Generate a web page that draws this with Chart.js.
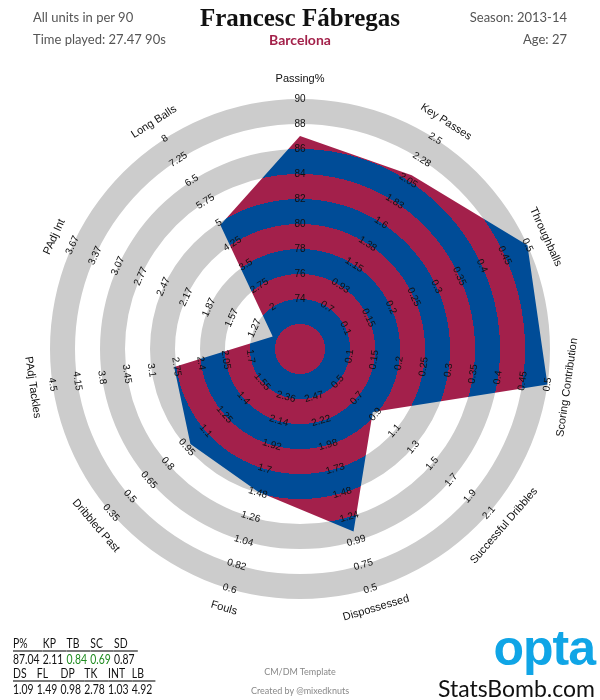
<!DOCTYPE html>
<html lang="en">
<head>
<meta charset="UTF-8">
<title>Francesc Fábregas - Radar</title>
<script src="https://cdn.jsdelivr.net/npm/chart.js"></script>
<style>
    body {
        margin: 0;
        background: #fff;
        font-family: Lato, "Liberation Sans", Arial, sans-serif;
    }
    .page { position: relative; width: 600px; height: 700px; overflow: hidden; }
    #radar { position: absolute; left: 0; top: 0; }
    .txt { position: absolute; white-space: nowrap; line-height: 1; }
    .info { font-size: 13px; color: #555; }
    .right { text-align: right; }
    #name {
        left: 0; width: 600px; top: 5px; text-align: center;
        font-family: "Liberation Serif", "DejaVu Serif", serif;
        font-weight: bold; font-size: 25px; color: #111;
    }
    #team {
        left: 0; width: 600px; top: 33px; text-align: center;
        font-weight: bold; font-size: 14px; color: #a3214a;
    }
    #statBox { left: 13px; top: 636px; transform: scaleX(0.8); transform-origin: left top; }
    .stats { border-collapse: collapse; font-size: 13px; color: #111; }
    .stats td { padding: 0 4px 0 0; line-height: 14px; }
    .stats .hd td { border-bottom: 2px solid #7a7a7a; }
    .note { font-size: 9px; color: #888; left: 0; width: 600px; text-align: center; }
    #opta { right: 5px; top: 623px; font-family: "Liberation Sans", Arial, sans-serif; font-weight: bold; font-size: 50px; color: #10a5e6; letter-spacing: -1px; }
    #sb { right: 5px; top: 677px; font-size: 23px; color: #111; }
</style>
</head>
<body>
<div class="page">
    <canvas id="radar" width="600" height="700"></canvas>

    <div class="txt info" style="left:33px; top:11px;">All units in per 90</div>
    <div class="txt info" style="left:33px; top:33px;">Time played: 27.47 90s</div>
    <div class="txt" id="name">Francesc Fábregas</div>
    <div class="txt" id="team">Barcelona</div>
    <div class="txt info right" style="right:33px; top:11px;">Season: 2013-14</div>
    <div class="txt info right" style="right:33px; top:33px;">Age: 27</div>

    <div class="txt" id="statBox">
        <table class="stats" id="row1"></table>
        <table class="stats" id="row2"></table>
    </div>

    <div class="txt note" style="top:667px;">CM/DM Template</div>
    <div class="txt note" style="top:686px;">Created by @mixedknuts</div>
    <div class="txt" id="opta">opta</div>
    <div class="txt" id="sb">StatsBomb.com</div>
</div>

<script>
    // axes, clockwise from the top
    const categories = ["Passing%", "Key Passes", "Throughballs", "Scoring Contribution",
        "Successful Dribbles", "Dispossessed", "Fouls", "Dribbled Past",
        "PAdj Tackles", "PAdj Int", "Long Balls"];
    const shortNames = ["P%", "KP", "TB", "SC", "SD", "DS", "FL", "DP", "TK", "INT", "LB"];
    const playerValues = [87.04, 2.11, 0.84, 0.69, 0.87, 1.09, 1.49, 0.98, 2.78, 1.03, 4.92];

    // ring labels per axis, inner ring to outer ring
    const passTicks = ["74", "76", "78", "80", "82", "84", "86", "88", "90"];
    const keyPassTicks = ["0.7", "0.93", "1.15", "1.38", "1.6", "1.83", "2.05", "2.28", "2.5"];
    const throughTicks = ["0.1", "0.15", "0.2", "0.25", "0.3", "0.35", "0.4", "0.45", "0.5"];
    const scoringTicks = ["0.1", "0.15", "0.2", "0.25", "0.3", "0.35", "0.4", "0.45", "0.5"];
    const dribbleTicks = ["0.5", "0.7", "0.9", "1.1", "1.3", "1.5", "1.7", "1.9", "2.1"];
    const dispossTicks = ["2.47", "2.22", "1.98", "1.73", "1.48", "1.24", "0.99", "0.75", "0.5"];
    const foulTicks = ["2.36", "2.14", "1.92", "1.7", "1.48", "1.26", "1.04", "0.82", "0.6"];
    const dribbledPastTicks = ["1.55", "1.4", "1.25", "1.1", "0.95", "0.8", "0.65", "0.5", "0.35"];
    const tackleTicks = ["1.7", "2.05", "2.4", "2.75", "3.1", "3.45", "3.8", "4.15", "4.5"];
    const intTicks = ["1.27", "1.57", "1.87", "2.17", "2.47", "2.77", "3.07", "3.37", "3.67"];
    const longBallTicks = ["2", "2.75", "3.5", "4.25", "5", "5.75", "6.5", "7.25", "8"];
    const tickLabels = [passTicks, keyPassTicks, throughTicks, scoringTicks, dribbleTicks,
        dispossTicks, foulTicks, dribbledPastTicks, tackleTicks, intTicks, longBallTicks];

    const BLUE = "#004c97";
    const RED = "#a3204b";
    const GREY = "#cccccc";

    // first ring label sits at 2, last at 10 on the shared 0-10 radial scale
    const scaled = playerValues.map((v, i) => {
        const lo = parseFloat(tickLabels[i][0]);
        const hi = parseFloat(tickLabels[i][tickLabels[i].length - 1]);
        const p = 2 + (v - lo) / (hi - lo) * 8;
        return Math.max(0, Math.min(10, p));
    });
    const overMax = playerValues.map((v, i) => {
        const lo = parseFloat(tickLabels[i][0]);
        const hi = parseFloat(tickLabels[i][tickLabels[i].length - 1]);
        return (v - lo) / (hi - lo) > 1;
    });

    function stripeFill(context) {
        const s = context.chart.scales.r;
        if (!s || !s.drawingArea) return RED;
        const g = context.chart.ctx.createRadialGradient(s.xCenter, s.yCenter, 0,
            s.xCenter, s.yCenter, s.getDistanceFromCenterForValue(10));
        for (let k = 0; k < 10; k++) {
            const c = k % 2 === 0 ? RED : BLUE;
            g.addColorStop(k / 10, c);
            g.addColorStop((k + 1) / 10, c);
        }
        return g;
    }

    const ringsPlugin = {
        id: "rings",
        beforeDatasetsDraw(chart) {
            const s = chart.scales.r;
            const ctx = chart.ctx;
            ctx.save();
            ctx.fillStyle = GREY;
            for (let k = 1; k < 10; k += 2) {
                const r0 = s.getDistanceFromCenterForValue(k);
                const r1 = s.getDistanceFromCenterForValue(k + 1);
                ctx.beginPath();
                ctx.arc(s.xCenter, s.yCenter, r1, 0, Math.PI * 2);
                ctx.arc(s.xCenter, s.yCenter, r0, 0, Math.PI * 2, true);
                ctx.fill();
            }
            ctx.restore();
        }
    };

    const labelsPlugin = {
        id: "axisText",
        afterDatasetsDraw(chart) {
            const s = chart.scales.r;
            const ctx = chart.ctx;
            ctx.save();
            ctx.fillStyle = "#111";
            ctx.textAlign = "center";
            ctx.textBaseline = "middle";
            categories.forEach((name, i) => {
                const a = s.getIndexAngle(i);
                const rot = (a > Math.PI / 2 && a < Math.PI * 1.5) ? a - Math.PI : a;
                ctx.font = "10px 'Liberation Sans', Arial, sans-serif";
                tickLabels[i].forEach((t, j) => {
                    const p = s.getPointPositionForValue(i, 2 + j);
                    ctx.save();
                    ctx.translate(p.x, p.y);
                    ctx.rotate(rot);
                    ctx.fillText(t, 0, 0);
                    ctx.restore();
                });
                ctx.font = "11px 'Liberation Sans', Arial, sans-serif";
                const q = s.getPointPositionForValue(i, 10.8);
                ctx.save();
                ctx.translate(q.x, q.y);
                ctx.rotate(rot);
                ctx.fillText(name, 0, 0);
                ctx.restore();
            });
            ctx.restore();
        }
    };

    new Chart(document.getElementById("radar"), {
        type: "radar",
        data: {
            labels: categories,
            datasets: [{
                data: scaled,
                backgroundColor: stripeFill,
                borderWidth: 0,
                pointRadius: 0,
                fill: true
            }]
        },
        options: {
            responsive: false,
            animation: false,
            layout: { padding: { left: 50, right: 50, top: 99, bottom: 101 } },
            plugins: { legend: { display: false }, tooltip: { enabled: false } },
            elements: { line: { tension: 0 } },
            scales: {
                r: {
                    min: 0,
                    max: 10,
                    ticks: { display: false, stepSize: 1 },
                    grid: { display: false },
                    angleLines: { display: false },
                    pointLabels: { display: false }
                }
            }
        },
        plugins: [ringsPlugin, labelsPlugin]
    });

    // stat tables under the chart
    function fillTable(id, from, to) {
        const tbl = document.getElementById(id);
        const hd = document.createElement("tr");
        hd.className = "hd";
        const vals = document.createElement("tr");
        for (let i = from; i < to; i++) {
            const h = document.createElement("td");
            h.textContent = shortNames[i];
            hd.appendChild(h);
            const v = document.createElement("td");
            v.textContent = playerValues[i].toFixed(2);
            if (overMax[i]) v.style.color = "#1e8b1e";
            vals.appendChild(v);
        }
        tbl.appendChild(hd);
        tbl.appendChild(vals);
    }
    fillTable("row1", 0, 5);
    fillTable("row2", 5, 11);
</script>
</body>
</html>
